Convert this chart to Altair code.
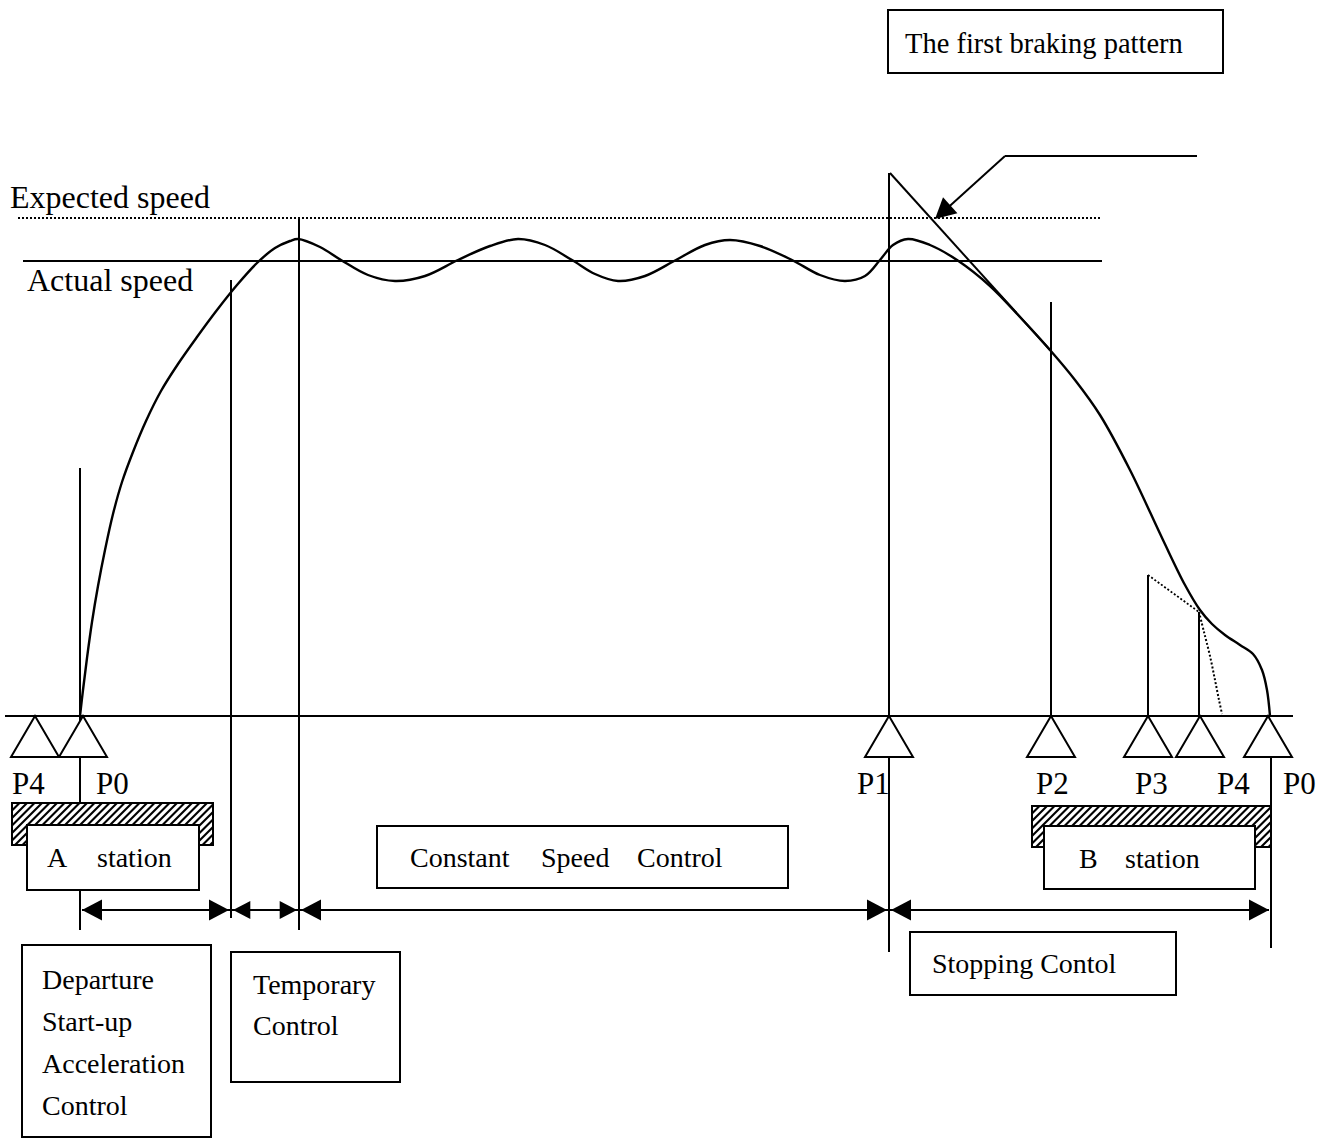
import altair as alt
import pandas as pd

W, H = 1332, 1139
FONT = "Liberation Serif"

# ---- data (diagram coordinates, pixel space of the figure) ----
# actual speed curve
curve_x = [80, 83, 87, 92, 98, 105, 113, 122, 133, 146, 161, 178, 197, 217, 237, 257, 275, 290,
           298, 320, 341, 368, 395,
           425, 458, 490, 518, 545, 572, 595, 618, 645, 676, 705, 730, 760, 792, 820, 845,
           865, 880, 893, 908, 930, 957, 990, 1020, 1050, 1075, 1100, 1130, 1163, 1185,
           1200, 1212, 1225, 1240, 1253, 1262, 1267, 1270]
curve_y = [716, 690, 658, 622, 586, 550, 514, 482, 452, 421, 391, 364, 337, 310, 285, 263, 248, 241,
           239, 247, 260, 275, 281,
           276, 260, 246, 239, 245, 260, 274, 281, 276, 260, 245, 240, 246, 260, 275, 281,
           276, 260, 245, 239, 245, 260, 286, 317, 350, 380, 415, 470, 540, 585,
           610, 624, 635, 645, 654, 670, 690, 716]

# second braking pattern (dotted)
dot_curve_x = [1199, 1204, 1210, 1215, 1219, 1222]
dot_curve_y = [612, 632, 656, 680, 700, 714]

# straight segments: solid
seg_x1 = [5, 23, 80, 80, 231, 299, 889, 1051, 1148, 1199, 1271, 82, 890, 1005, 1005]
seg_y1 = [716, 261, 468, 890, 280, 218, 173, 302, 575, 612, 757, 910, 173, 156, 156]
seg_x2 = [1293, 1102, 80, 80, 231, 299, 889, 1051, 1148, 1199, 1271, 1269, 1050, 1197, 942]
seg_y2 = [716, 261, 803, 930, 918, 930, 952, 716, 716, 716, 948, 910, 350, 156, 213]

# dotted straight segments
dseg_x1 = [18, 1148]
dseg_y1 = [218, 575]
dseg_x2 = [1100, 1199]
dseg_y2 = [218, 612]

# sensor triangles (apex positions on the track)
tri_x = [35, 83, 889, 1051, 1148, 1200, 1268]
tri_y = [716, 716, 716, 716, 716, 716, 716]

# arrowheads (tip position, direction angle)
arr_x = [82, 229, 233, 297, 301, 887, 891, 1269, 935]
arr_y = [910, 910, 910, 910, 910, 910, 910, 910, 219]
arr_a = [180, 0, 180, 0, 180, 0, 180, 0, 138]
arr_s = [400, 400, 300, 300, 400, 400, 400, 400, 420]

# hatched platforms
plat_x1 = [12, 1032]
plat_y1 = [803, 806]
plat_x2 = [213, 1271]
plat_y2 = [845, 847]

# boxes
box_x1 = [888, 27, 1044, 377, 22, 231, 910]
box_y1 = [10, 825, 826, 826, 945, 952, 932]
box_x2 = [1223, 199, 1255, 788, 211, 400, 1176]
box_y2 = [73, 890, 889, 888, 1137, 1082, 995]

# texts
txt = ["The first braking pattern", "Expected speed", "Actual speed",
       "P4", "P0", "P1", "P2", "P3", "P4", "P0",
       "A", "station", "B", "station", "Constant", "Speed", "Control",
       "Departure", "Start-up", "Acceleration", "Control",
       "Temporary", "Control", "Stopping Contol"]
txt_x = [905, 10, 27,
         12, 96, 857, 1036, 1135, 1217, 1283,
         47, 97, 1079, 1125, 410, 541, 637,
         42, 42, 42, 42,
         253, 253, 932]
txt_y = [53, 208, 291,
         794, 794, 794, 794, 794, 794, 794,
         867, 867, 868, 868, 867, 867, 867,
         989, 1031, 1073, 1115,
         994, 1035, 973]
txt_s = [28.5, 32, 32,
         31, 31, 31, 31, 31, 31, 31,
         28, 28, 28, 28, 28, 28, 28,
         28, 28, 28, 28,
         28, 28, 28]

# ---- helpers ----
xs = alt.Scale(domain=[0, W], nice=False, zero=False)
ys = alt.Scale(domain=[0, H], reverse=True, nice=False, zero=False)


def X(f):
    return alt.X(f, type="quantitative", scale=xs, axis=None)


def Y(f):
    return alt.Y(f, type="quantitative", scale=ys, axis=None)


# hatch lines computed inside each platform rectangle
hx1, hy1, hx2, hy2 = [], [], [], []
step = 7.5
for x0, y0, x1, y1 in zip(plat_x1, plat_y1, plat_x2, plat_y2):
    c = x0 + y0
    while c < x1 + y1:
        xa = max(x0, c - y1)
        xb = min(x1, c - y0)
        if xb > xa:
            hx1.append(xa); hy1.append(c - xa)
            hx2.append(xb); hy2.append(c - xb)
        c += step

df_curve = pd.DataFrame({"x": curve_x, "y": curve_y, "i": range(len(curve_x))})
df_dcurve = pd.DataFrame({"x": dot_curve_x, "y": dot_curve_y, "i": range(len(dot_curve_x))})
df_seg = pd.DataFrame({"x": seg_x1, "y": seg_y1, "x2": seg_x2, "y2": seg_y2})
df_dseg = pd.DataFrame({"x": dseg_x1, "y": dseg_y1, "x2": dseg_x2, "y2": dseg_y2})
df_hatch = pd.DataFrame({"x": hx1, "y": hy1, "x2": hx2, "y2": hy2})
df_plat = pd.DataFrame({"x": plat_x1, "y": plat_y1, "x2": plat_x2, "y2": plat_y2})
df_box = pd.DataFrame({"x": box_x1, "y": box_y1, "x2": box_x2, "y2": box_y2})
df_tri = pd.DataFrame({"x": tri_x, "y": tri_y})
df_arr = pd.DataFrame({"x": arr_x, "y": arr_y, "a": arr_a, "s": arr_s})
df_txt = pd.DataFrame({"t": txt, "x": txt_x, "y": txt_y, "s": txt_s})

hatch = alt.Chart(df_hatch).mark_rule(color="black", strokeWidth=2.2).encode(
    x=X("x"), y=Y("y"), x2="x2", y2="y2")
plat = alt.Chart(df_plat).mark_rect(fillOpacity=0, stroke="black", strokeWidth=2).encode(
    x=X("x"), y=Y("y"), x2="x2", y2="y2")
boxes = alt.Chart(df_box).mark_rect(fill="white", stroke="black", strokeWidth=2).encode(
    x=X("x"), y=Y("y"), x2="x2", y2="y2")
segs = alt.Chart(df_seg).mark_rule(color="black", strokeWidth=2).encode(
    x=X("x"), y=Y("y"), x2="x2", y2="y2")
dsegs = alt.Chart(df_dseg).mark_rule(color="black", strokeWidth=1.8, strokeDash=[2, 2]).encode(
    x=X("x"), y=Y("y"), x2="x2", y2="y2")
curve = alt.Chart(df_curve).mark_line(color="black", strokeWidth=2.4,
                                      interpolate="catmull-rom").encode(
    x=X("x"), y=Y("y"), order="i:Q")
dcurve = alt.Chart(df_dcurve).mark_line(color="black", strokeWidth=2, strokeDash=[2, 2],
                                        interpolate="catmull-rom").encode(
    x=X("x"), y=Y("y"), order="i:Q")
tris = alt.Chart(df_tri).mark_point(
    shape="M0,0L1.17,2L-1.17,2Z", size=1681, filled=True, fill="white",
    stroke="black", strokeWidth=2, opacity=1).encode(x=X("x"), y=Y("y"))
arrows = alt.Chart(df_arr).mark_point(
    shape="M0,0L-2,-1.05L-2,1.05Z", filled=True, color="black", opacity=1,
    strokeWidth=0).encode(
    x=X("x"), y=Y("y"), angle=alt.Angle("a:Q", scale=None), size=alt.Size("s:Q", scale=None))
texts = alt.Chart(df_txt).mark_text(font=FONT, align="left", baseline="alphabetic",
                                    color="black").encode(
    x=X("x"), y=Y("y"), text="t:N", size=alt.Size("s:Q", scale=None))

chart = alt.layer(hatch, plat, boxes, segs, dsegs, curve, dcurve, tris, arrows, texts).properties(
    width=W, height=H, padding=0, autosize=alt.AutoSizeParams(type="none"),
    background="white"
).configure_view(stroke=None)

chart.save("out.html", embed_options={"renderer": "svg", "actions": False})
